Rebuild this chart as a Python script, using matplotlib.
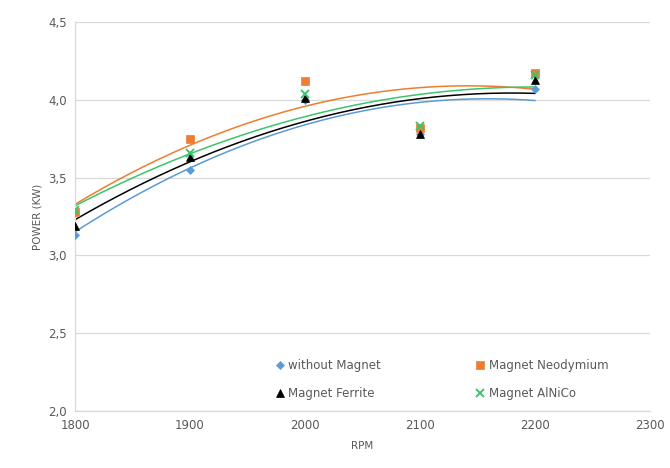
"""
Power vs RPM with 2nd-order polynomial trendlines, four magnet configurations.
"""

import matplotlib
matplotlib.use("Agg")
import matplotlib.pyplot as plt
import numpy as np
from matplotlib.ticker import FuncFormatter

# data
rpm = [1800, 1900, 2000, 2100, 2200]
without_magnet = [3.13, 3.55, 4.00, 3.78, 4.07]
magnet_neodymium = [3.28, 3.75, 4.12, 3.82, 4.17]
magnet_ferrite = [3.19, 3.63, 4.01, 3.78, 4.13]
magnet_alnico = [3.29, 3.66, 4.04, 3.83, 4.16]

SERIES = [
    ("without Magnet", without_magnet, "#5B9BD5", "D", 4.5),
    ("Magnet Neodymium", magnet_neodymium, "#ED7D31", "s", 5.5),
    ("Magnet Ferrite", magnet_ferrite, "#000000", "^", 5.5),
    ("Magnet AlNiCo", magnet_alnico, "#3CC46E", "x", 6.0),
]

TEXT_C = "#595959"
GRID_C = "#D9D9D9"

plt.rcParams["font.family"] = ["DejaVu Sans"]

fig = plt.figure(figsize=(6.7, 4.68), dpi=100)
ax = fig.add_axes([0.112, 0.122, 0.858, 0.831])

x = np.array(rpm, dtype=float)
xs = np.linspace(x.min(), x.max(), 200)
handles = []
for label, vals, color, marker, ms in SERIES:
    y = np.array(vals)
    coef = np.polyfit(x, y, 2)
    ax.plot(xs, np.polyval(coef, xs), color=color, lw=1.1, zorder=2)
    h = ax.plot(x, y, linestyle="none", marker=marker, color=color,
                markersize=ms, markeredgewidth=1.4 if marker == "x" else 0.5,
                zorder=3, label=label)[0]
    handles.append(h)

ax.set_xlim(1800, 2300)
ax.set_ylim(2.0, 4.5)
ax.set_xticks(np.arange(1800, 2301, 100))
ax.set_yticks(np.arange(2.0, 4.51, 0.5))
ax.yaxis.set_major_formatter(FuncFormatter(lambda v, p: f"{v:.1f}".replace(".", ",")))
ax.grid(axis="y", color=GRID_C, lw=0.9)
ax.set_axisbelow(True)

for side in ["top", "right"]:
    ax.spines[side].set_visible(False)
for side in ["left", "bottom"]:
    ax.spines[side].set_color(GRID_C)
    ax.spines[side].set_linewidth(0.9)
ax.tick_params(axis="both", length=0, labelsize=8.5, colors=TEXT_C, pad=6)

ax.set_xlabel("RPM", fontsize=7.5, color=TEXT_C, labelpad=6)
ax.set_ylabel("POWER (KW)", fontsize=7.5, color=TEXT_C, labelpad=4)

# row-wise legend: without / Neodymium on first row, Ferrite / AlNiCo on second
order = [0, 2, 1, 3]
leg = ax.legend([handles[i] for i in order], [SERIES[i][0] for i in order],
                ncol=2, frameon=False, loc="lower left",
                bbox_to_anchor=(0.33, 0.0), fontsize=8.5,
                handlelength=0.8, handletextpad=0.3, columnspacing=8.0,
                labelspacing=1.3)
for t in leg.get_texts():
    t.set_color(TEXT_C)

fig.savefig("out.png", dpi=100)
